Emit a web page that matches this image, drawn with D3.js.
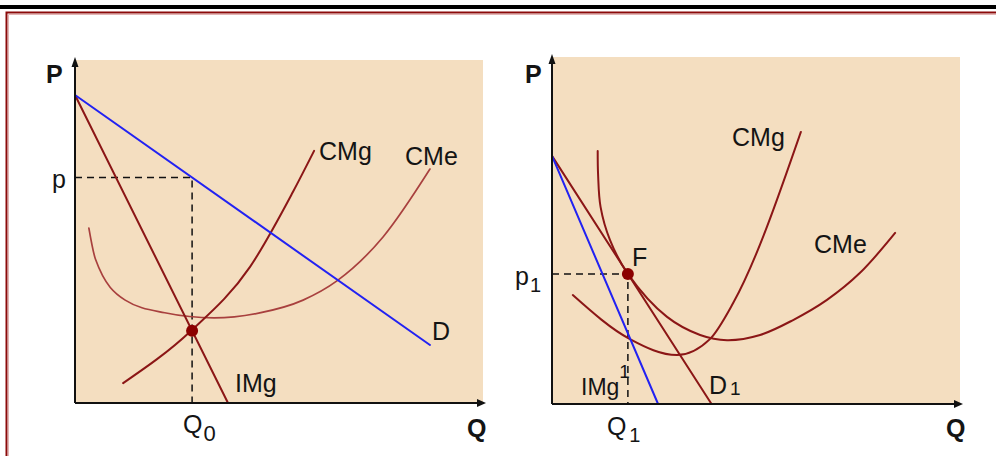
<!DOCTYPE html>
<html>
<head>
<meta charset="utf-8">
<script src="https://cdn.jsdelivr.net/npm/d3@7"></script>
<style>
  body { margin: 0; background: #fff; }
  svg { display: block; }
  text { font-family: "Liberation Sans", Arial, sans-serif; fill: #141414; }
</style>
</head>
<body>
<svg id="chart" width="996" height="456"></svg>
<script>
// ---- Left panel: short-run monopoly (Q on 0..100, P on 0..100) ----
const leftDemand = [[0, 89.8], [87.0, 16.9]];
const leftIMg = [[0, 89.8], [37.5, 0]];
const leftCMg = [[11.8, 5.8], [28.4, 21.0], [42.9, 39.7], [53.4, 61.5], [58.6, 73.5]];
const leftCMe = [[3.4, 51.0], [5.0, 42.0], [12.3, 30.0], [22.0, 26.3], [34.1, 24.8], [45.0, 26.2], [55.9, 30.0], [64.2, 35.6], [75.5, 48.4], [87.0, 68.2]];
const leftQ0 = 28.7;

// ---- Right panel: long-run tangency at F ----
const rightD1 = [[0, 71.5], [39.1, 0]];
const rightIMg1 = [[0, 71.5], [26.0, 0]];
const rightCMg = [[5.1, 31.4], [19.1, 18.7], [30.6, 14.1], [38.7, 18.7], [44.4, 29.1], [61.0, 78.4]];
const rightCMe = [[11.2, 72.9], [11.3, 66.0], [11.9, 56.8], [14.2, 47.3], [18.6, 37.5], [28.2, 25.1], [36.3, 19.9], [42.9, 18.4], [51.0, 19.9], [59.1, 24.2], [67.4, 30.0], [75.5, 37.8], [84.1, 49.3]];
const rightQ1 = 18.6;

const svg = d3.select("#chart");
const RED = "#8b1616", RED_LIGHT = "#a8403e", BLUE = "#2222f2", BEIGE = "#f4dec0";

// page frame: black rule and dark red box
svg.append("rect").attr("x", 0).attr("y", 5).attr("width", 996).attr("height", 4).attr("fill", "#000");
svg.append("rect").attr("x", 6.5).attr("y", 12.5).attr("width", 1000).attr("height", 460)
  .attr("fill", "none").attr("stroke", "#8b0a0a").attr("stroke-width", 2);
svg.append("path").attr("d", "M8.5,460V14.5H996").attr("fill", "none").attr("stroke", "#e4b4b4").attr("stroke-width", 1);

function panel(cfg) {
  const g = svg.append("g").attr("transform", `translate(${cfg.x},${cfg.y})`);
  const x = d3.scaleLinear([0, 100], [0, cfg.w]);
  const y = d3.scaleLinear([0, 100], [cfg.h, 0]);
  g.append("rect").attr("width", cfg.w).attr("height", cfg.h).attr("fill", BEIGE);
  const make = c => d3.line().x(d => x(d[0])).y(d => y(d[1])).curve(c);
  return {
    g, x, y, cfg,
    line: make(d3.curveLinear),
    mono: make(d3.curveMonotoneX),
    cr: make(d3.curveCatmullRom.alpha(0.5))
  };
}

function axes(p) {
  const { g, x, y, cfg } = p;
  const xa = g.append("g").attr("transform", `translate(0,${cfg.h})`)
    .call(d3.axisBottom(x).tickValues([]).tickSizeOuter(0));
  xa.select(".domain").attr("stroke", "#111").attr("stroke-width", 2).attr("d", `M0,0H${cfg.w}`);
  const ya = g.append("g").call(d3.axisLeft(y).tickValues([]).tickSizeOuter(0));
  ya.select(".domain").attr("stroke", "#111").attr("stroke-width", 2).attr("d", `M0,${cfg.h}V0`);
  // arrowheads
  g.append("path").attr("d", `M${cfg.w + 3},${cfg.h}L${cfg.w - 6},${cfg.h - 4}L${cfg.w - 6},${cfg.h + 4}Z`).attr("fill", "#111");
  g.append("path").attr("d", `M0,-3L-3.5,7L3.5,7Z`).attr("fill", "#111");
}

function dashed(p, q, v) {
  p.g.append("path")
    .attr("d", `M0,${p.y(v)}H${p.x(q)}V${p.y(0)}`)
    .attr("fill", "none").attr("stroke", "#111").attr("stroke-width", 1.5)
    .attr("stroke-dasharray", "7,5");
}

function draw(p, data, color, width, kind) {
  p.g.append("path").datum(data).attr("d", p[kind])
    .attr("fill", "none").attr("stroke", color).attr("stroke-width", width)
    .attr("stroke-linecap", "round");
}

function label(x, y, txt, opts = {}) {
  const t = svg.append("text").attr("x", x).attr("y", y)
    .attr("font-size", opts.size || 25)
    .attr("font-weight", opts.bold ? "bold" : null)
    .attr("font-family", opts.serif ? "'Liberation Serif', 'Times New Roman', serif" : null)
    .text(txt);
  if (opts.sub) {
    t.append("tspan").attr("dx", opts.sub.dx || 0).attr("dy", opts.sub.dy)
      .attr("font-size", opts.sub.size).text(opts.sub.text);
  }
  return t;
}

const lerp = seg => d3.scaleLinear([seg[0][0], seg[1][0]], [seg[0][1], seg[1][1]]);

// ---------- Left panel ----------
const L = panel({ x: 75, y: 60, w: 408, h: 343 });
const pLeft = lerp(leftDemand)(leftQ0);
const imgAtQ0 = lerp(leftIMg)(leftQ0);
dashed(L, leftQ0, pLeft);
draw(L, leftCMe, RED_LIGHT, 1.7, "mono");
draw(L, leftCMg, RED, 2, "mono");
draw(L, leftIMg, RED, 2, "line");
draw(L, leftDemand, BLUE, 2, "line");
L.g.append("circle").attr("cx", L.x(leftQ0)).attr("cy", L.y(imgAtQ0)).attr("r", 6).attr("fill", "#8b0000");
axes(L);

label(46, 83, "P", { bold: true });
label(467, 437, "Q", { bold: true, serif: true, size: 25 });
label(52, 60 + L.y(pLeft) + 10.5, "p");
label(75 + L.x(leftQ0) - 9, 433, "Q", { sub: { text: "0", dy: 8, size: 22, dx: 1 } });
label(319, 160, "CMg");
label(405, 165, "CMe");
label(432, 340, "D");
label(235, 392, "IMg");

// ---------- Right panel ----------
const R = panel({ x: 552, y: 57, w: 408, h: 347 });
const p1 = lerp(rightD1)(rightQ1);
dashed(R, rightQ1, p1);
draw(R, rightCMg, RED, 2, "mono");
draw(R, rightCMe, RED, 2, "cr");
draw(R, rightD1, RED, 2, "line");
draw(R, rightIMg1, BLUE, 2, "line");
R.g.append("circle").attr("cx", R.x(rightQ1)).attr("cy", R.y(p1)).attr("r", 6).attr("fill", "#8b0000");
axes(R);

label(525, 83, "P", { bold: true });
label(946, 437, "Q", { bold: true, serif: true, size: 25 });
label(515, 57 + R.y(p1) + 11, "p", { sub: { text: "1", dy: 7, size: 20, dx: 1 } });
label(552 + R.x(rightQ1) - 21, 435, "Q", { sub: { text: "1", dy: 7, size: 20, dx: 3 } });
label(632, 266, "F");
label(732, 146, "CMg");
label(814, 253, "CMe");
label(709, 394, "D", { sub: { text: "1", dy: 1, size: 19, dx: 3 } });
label(581, 395, "IMg", { size: 23, sub: { text: "1", dy: -17, size: 19, dx: 0 } });
</script>
</body>
</html>
